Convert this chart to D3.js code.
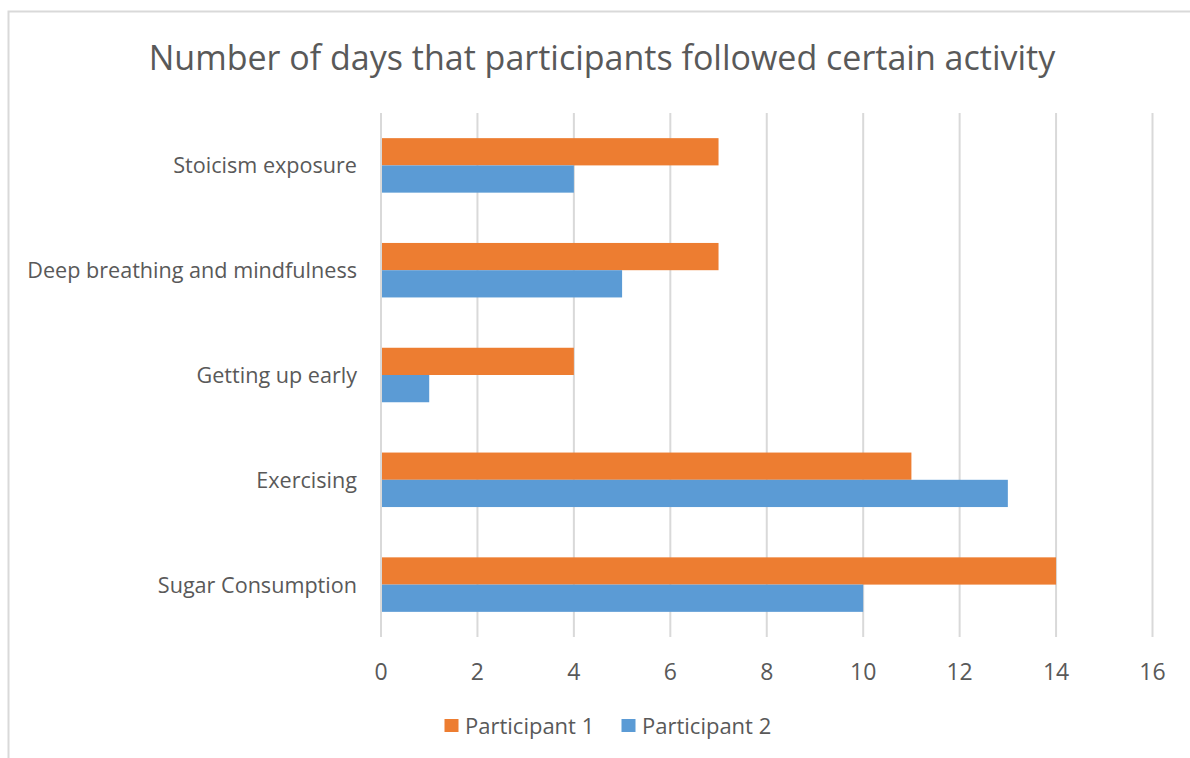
<!DOCTYPE html>
<html><head><meta charset="utf-8">
<script src="https://cdn.jsdelivr.net/npm/d3@7"></script>
<style>body{margin:0;background:#fff}svg{display:block}text{font-family:"Open Sans",sans-serif;fill:#595959}</style>
</head><body>
<script>
const title = "Number of days that participants followed certain activity";
const categories = ["Stoicism exposure","Deep breathing and mindfulness","Getting up early","Exercising","Sugar Consumption"];
const seriesNames = ["Participant 1","Participant 2"];
const participant1 = [7,7,4,11,14];
const participant2 = [4,5,1,13,10];
const tickValues = [0,2,4,6,8,10,12,14,16];
const colors = ["#ED7D31","#5B9BD5"];

const W=1190,H=758;
const svg=d3.select("body").append("svg").attr("width",W).attr("height",H);
svg.append("rect").attr("x",8.5).attr("y",11.5).attr("width",1200).attr("height",800).attr("fill","#fff").attr("stroke","#d9d9d9").attr("stroke-width",2);

svg.append("text").attr("x",602).attr("y",70).attr("text-anchor","middle").attr("font-size",34).text(title);

const x=d3.scaleLinear().domain([0,16]).range([381,1152.5]);
const y=d3.scaleBand().domain(categories).range([113,637]).padding(0);
const sub=d3.scaleBand().domain(seriesNames).range([0.24,0.76].map(f=>f*y.bandwidth()));

const grid=svg.append("g");
grid.selectAll("line").data(tickValues).join("line")
  .attr("x1",d=>x(d)).attr("x2",d=>x(d)).attr("y1",113).attr("y2",637)
  .attr("stroke","#d9d9d9").attr("stroke-width",2);

const data=[participant1,participant2];
data.forEach((vals,si)=>{
  svg.append("g").selectAll("rect").data(vals).join("rect")
    .attr("x",x(0)+1).attr("y",(d,i)=>y(categories[i])+sub(seriesNames[si]))
    .attr("width",d=>x(d)-x(0)-1).attr("height",sub.bandwidth())
    .attr("fill",colors[si]);
});

svg.append("g").selectAll("text").data(tickValues).join("text")
  .attr("x",d=>x(d)).attr("y",680).attr("text-anchor","middle").attr("font-size",23).text(d=>d);

svg.append("g").selectAll("text").data(categories).join("text")
  .attr("x",357).attr("y",d=>y(d)+y.bandwidth()/2+8).attr("text-anchor","end").attr("font-size",21.6).text(d=>d);

const leg=svg.append("g");
const legX=[444.5,621.5];
seriesNames.forEach((s,i)=>{
  leg.append("rect").attr("x",legX[i]).attr("y",719).attr("width",14).attr("height",13).attr("fill",colors[i]);
  leg.append("text").attr("x",legX[i]+20.5).attr("y",734).attr("font-size",22).text(s);
});
</script>
</body></html>
